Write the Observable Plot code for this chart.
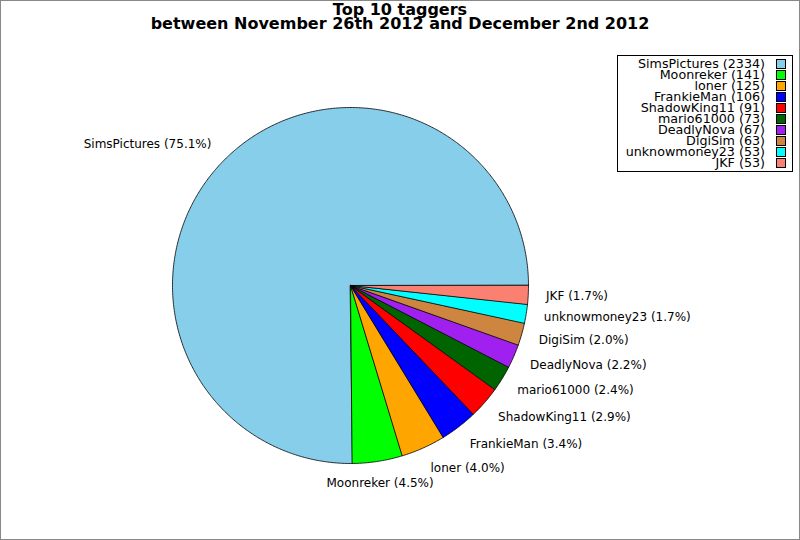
<!DOCTYPE html>
<html>
<head>
<meta charset="utf-8">
<script src="https://cdn.jsdelivr.net/npm/d3@7"></script>
<script src="https://cdn.jsdelivr.net/npm/@observablehq/plot@0.6"></script>
<style>
  body { margin: 0; background: #fff; font-family: "DejaVu Sans", sans-serif; }
  #wrap { position: relative; width: 800px; height: 540px; }
  #frame { position: absolute; left: 0; top: 0; width: 800px; height: 540px; box-sizing: border-box; border: 1px solid #888; pointer-events: none; }
  #title { position: absolute; left: 0; width: 800px; top: 3px; text-align: center; font-weight: bold; font-size: 16px; line-height: 14px; }
  #legend { position: absolute; left: 617px; top: 55px; width: 176px; height: 117px; box-sizing: border-box; border: 1px solid #000; background: #fff; padding-top: 2px; }
  .row { display: flex; justify-content: flex-end; align-items: center; height: 11px; font-size: 12.7px; padding-right: 6px; }
  .sw { width: 8px; height: 8px; border: 1px solid #000; margin-left: 11px; }
</style>
</head>
<body>
<div id="wrap">
  <div id="chart"></div>
  <div id="title">Top 10 taggers<br>between November 26th 2012 and December 2nd 2012</div>
  <div id="legend"></div>
  <div id="frame"></div>
</div>
<script>
const names = ["SimsPictures", "Moonreker", "loner", "FrankieMan", "ShadowKing11", "mario61000", "DeadlyNova", "DigiSim", "unknowmoney23", "JKF"]
const counts = [2334, 141, 125, 106, 91, 73, 67, 63, 53, 53]
const colors = ["#87ceeb", "#00ff00", "#ffa500", "#0000ff", "#ff0000", "#006400", "#a020f0", "#cd853f", "#00ffff", "#fa8072"]

const total = d3.sum(counts)

// angles counterclockwise from east, like matplotlib
let acc = 0
const slices = names.map((name, i) => {
  const a0 = acc / total * 2 * Math.PI
  acc += counts[i]
  const a1 = acc / total * 2 * Math.PI
  return {name, count: counts[i], pct: counts[i] / total, a0, a1, mid: (a0 + a1) / 2}
})

// outline of each wedge: center then points along the arc
const pts = []
slices.forEach(s => {
  pts.push({name: s.name, x: 0, y: 0})
  const n = Math.max(2, Math.ceil((s.a1 - s.a0) / (Math.PI / 360)))
  for (let k = 0; k <= n; k++) {
    const a = s.a0 + (s.a1 - s.a0) * k / n
    pts.push({name: s.name, x: Math.cos(a), y: Math.sin(a)})
  }
})

const labels = slices.map(s => {
  const x = 1.1 * Math.cos(s.mid)
  return {
    text: `${s.name} (${(s.pct * 100).toFixed(1)}%)`,
    x, y: 1.125 * Math.sin(s.mid),
    anchor: Math.abs(x) < 0.2 ? "middle" : x > 0 ? "start" : "end"
  }
})

const textOpts = {x: "x", y: "y", text: "text", fontSize: 12, fill: "#000"}

const chart = Plot.plot({
  width: 800,
  height: 540,
  marginLeft: 172,
  marginRight: 272,
  marginTop: 107,
  marginBottom: 77,
  x: {domain: [-1, 1], axis: null},
  y: {domain: [-1, 1], axis: null},
  color: {domain: names, range: colors},
  style: {fontFamily: "DejaVu Sans, sans-serif", background: "#fff", overflow: "visible"},
  marks: [
    Plot.line(pts, {x: "x", y: "y", z: "name", fill: "name", stroke: "#000", strokeWidth: 0.8, curve: "linear-closed"}),
    Plot.text(labels.filter(d => d.anchor === "start"), {...textOpts, textAnchor: "start"}),
    Plot.text(labels.filter(d => d.anchor === "end"), {...textOpts, textAnchor: "end"}),
    Plot.text(labels.filter(d => d.anchor === "middle"), {...textOpts, textAnchor: "middle"})
  ]
})

d3.select("#chart").append(() => chart)

const rows = d3.select("#legend").selectAll(".row")
  .data(slices)
  .join("div")
  .attr("class", "row")
rows.append("span").text(d => `${d.name} (${d.count})`)
rows.append("span").attr("class", "sw").style("background", (d, i) => colors[i])
</script>
</body>
</html>
